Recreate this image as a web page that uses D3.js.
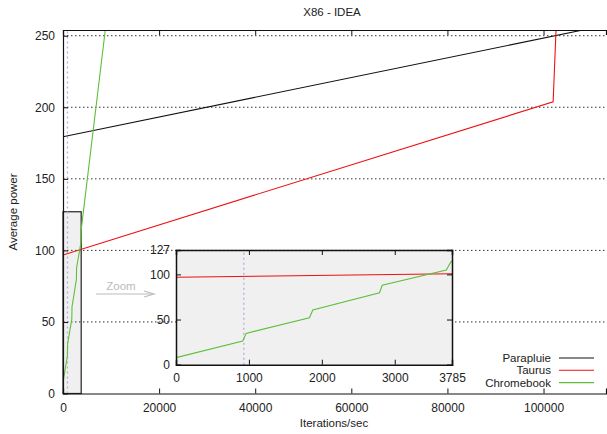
<!DOCTYPE html>
<html><head><meta charset="utf-8">
<script src="https://cdn.jsdelivr.net/npm/d3@7"></script>
<style>body{margin:0;background:#fff}svg{display:block}text{font-family:"Liberation Sans",Arial,sans-serif;fill:#222}</style>
</head><body>
<script>
// ---- data ----
const seriesNames = ["Parapluie", "Taurus", "Chromebook"];
const seriesColors = ["#111111", "#ee1111", "#5fbf3a"];
const parapluie = [[0, 179.4], [108200, 254]];
const taurus = [[0, 96.8], [102000, 203.8], [102600, 254]];
const chromebook = [[0, 7.8], [915, 26.2], [961, 34.7], [1830, 52.0], [1876, 60.6], [2791, 79.7], [2828, 87.9], [3707, 104.9], [3771, 114], [8800, 254]];
const mainXTicks = [0, 20000, 40000, 60000, 80000, 100000];
const mainYTicks = [0, 50, 100, 150, 200, 250];
const zoomXTicks = [0, 1000, 2000, 3000, 3785];
const zoomYTicks = [0, 50, 100, 127];
const zoomRegion = {x1: 0, x2: 3785, y1: 0, y2: 127};
const markerX = 930;
const title = "X86 - IDEA";
const xLabel = "Iterations/sec";
const yLabel = "Average power";

const W = 607, H = 434;
const svg = d3.select("body").append("svg").attr("width", W).attr("height", H);

const x = d3.scaleLinear().domain([0, 113000]).range([63, 606]);
const y = d3.scaleLinear().domain([0, 254]).range([393.5, 30]);
const all = [parapluie, taurus, chromebook];

svg.append("defs").append("clipPath").attr("id", "mainclip")
  .append("rect").attr("x", 63).attr("y", 30).attr("width", 543).attr("height", 363.5);

// zoom region rect in main
svg.append("rect").attr("x", x(zoomRegion.x1)).attr("y", y(zoomRegion.y2))
  .attr("width", x(zoomRegion.x2) - x(zoomRegion.x1)).attr("height", y(zoomRegion.y1) - y(zoomRegion.y2))
  .attr("fill", "#eff0ef").attr("stroke", "#222").attr("stroke-width", 1.2);

// grid
svg.append("g").selectAll("line").data(mainYTicks.filter(d => d > 0)).join("line")
  .attr("x1", 63).attr("x2", 606).attr("y1", d => y(d)).attr("y2", d => y(d))
  .attr("stroke", "#333").attr("stroke-width", 1).attr("stroke-dasharray", "1.5,2.5");

// marker vertical
svg.append("line").attr("x1", x(markerX)).attr("x2", x(markerX)).attr("y1", y(0)).attr("y2", 30)
  .attr("stroke", "#b9acdc").attr("stroke-width", 1.3).attr("stroke-dasharray", "2,3");

// lines
const line = d3.line().x(d => x(d[0])).y(d => y(d[1]));
const gl = svg.append("g").attr("clip-path", "url(#mainclip)");
all.forEach((s, i) => gl.append("path").datum(s).attr("d", line).attr("fill", "none")
  .attr("stroke", seriesColors[i]).attr("stroke-width", 1.1));

// axes
const gx = svg.append("g").attr("transform", `translate(0,${y(0)})`)
  .call(d3.axisBottom(x).tickValues(mainXTicks).tickFormat(d3.format("d")).tickSize(-5).tickPadding(10));
const gxt = svg.append("g").attr("transform", `translate(0,30)`)
  .call(d3.axisTop(x).tickValues(mainXTicks).tickFormat("").tickSize(-5));
const gy = svg.append("g").attr("transform", `translate(63,0)`)
  .call(d3.axisLeft(y).tickValues(mainYTicks).tickSize(-5).tickPadding(8));
[gx, gxt, gy].forEach(g => {
  g.select(".domain").attr("stroke", "#111").attr("stroke-width", 1.2);
  g.selectAll(".tick line").attr("stroke", "#111");
  g.selectAll("text").attr("font-size", 12).attr("fill", "#222")
    .attr("font-family", "'Liberation Sans',Arial,sans-serif");
});
gx.selectAll(".tick").filter(d => d === 0).select("line").remove();
gxt.selectAll(".tick").filter(d => d === 0).select("line").remove();
gy.selectAll(".tick").filter(d => d === 0).select("line").remove();

// titles
svg.append("text").attr("x", 332).attr("y", 16).attr("text-anchor", "middle").attr("font-size", 11.5).text(title);
svg.append("text").attr("x", 334).attr("y", 427).attr("text-anchor", "middle").attr("font-size", 11.5).text(xLabel);
svg.append("text").attr("transform", "translate(17,212) rotate(-90)").attr("text-anchor", "middle").attr("font-size", 11.5).text(yLabel);

// zoom arrow annotation
svg.append("text").attr("x", 121).attr("y", 290).attr("text-anchor", "middle").attr("font-size", 11.5)
  .style("fill", "#bbbbbb").text("Zoom");
svg.append("line").attr("x1", 96).attr("x2", 153).attr("y1", 294).attr("y2", 294).attr("stroke", "#bbb").attr("stroke-width", 1.2);
svg.append("path").attr("d", "M144,291 L154,294 L144,297").attr("fill", "none").attr("stroke", "#bbb").attr("stroke-width", 1.2);

// inset
const ix = d3.scaleLinear().domain([zoomRegion.x1, zoomRegion.x2]).range([176, 452]);
const iy = d3.scaleLinear().domain([zoomRegion.y1, zoomRegion.y2]).range([364.7, 250]);
svg.append("defs").append("clipPath").attr("id", "insclip")
  .append("rect").attr("x", 176).attr("y", 250).attr("width", 276).attr("height", 114.7);
svg.append("rect").attr("x", 176).attr("y", 250).attr("width", 276).attr("height", 114.7).attr("fill", "#eff0ef");
svg.append("line").attr("x1", ix(markerX)).attr("x2", ix(markerX)).attr("y1", iy(0)).attr("y2", iy(127))
  .attr("stroke", "#b9acdc").attr("stroke-width", 1.3).attr("stroke-dasharray", "2,3");
const iline = d3.line().x(d => ix(d[0])).y(d => iy(d[1]));
const gi = svg.append("g").attr("clip-path", "url(#insclip)");
all.forEach((s, i) => gi.append("path").datum(s).attr("d", iline).attr("fill", "none")
  .attr("stroke", seriesColors[i]).attr("stroke-width", 1.1));
const ib = svg.append("g").attr("transform", `translate(0,${iy(0)})`)
  .call(d3.axisBottom(ix).tickValues(zoomXTicks).tickFormat(d3.format("d")).tickSize(-5).tickPadding(9));
const it = svg.append("g").attr("transform", `translate(0,${iy(127)})`)
  .call(d3.axisTop(ix).tickValues(zoomXTicks).tickFormat("").tickSize(-5));
const il = svg.append("g").attr("transform", `translate(176,0)`)
  .call(d3.axisLeft(iy).tickValues(zoomYTicks).tickSize(-5).tickPadding(6));
const ir = svg.append("g").attr("transform", `translate(452,0)`)
  .call(d3.axisRight(iy).tickValues(zoomYTicks).tickFormat("").tickSize(-5));
[ib, it, il, ir].forEach(g => {
  g.select(".domain").attr("stroke", "#111").attr("stroke-width", 1.5);
  g.selectAll(".tick line").attr("stroke", "#111");
  g.selectAll("text").attr("font-size", 12).attr("fill", "#222")
    .attr("font-family", "'Liberation Sans',Arial,sans-serif");
});
[ib, it].forEach(g => g.selectAll(".tick").filter(d => d === 0 || d === 3785).select("line").remove());
[il, ir].forEach(g => g.selectAll(".tick").filter(d => d === 0 || d === 127).select("line").remove());

// legend
const lg = svg.append("g");
seriesNames.forEach((n, i) => {
  const yy = 358 + i * 12.3;
  lg.append("text").attr("x", 551).attr("y", yy + 4).attr("text-anchor", "end").attr("font-size", 11.5).text(n);
  lg.append("line").attr("x1", 559).attr("x2", 594).attr("y1", yy).attr("y2", yy)
    .attr("stroke", seriesColors[i]).attr("stroke-width", 1.1);
});
</script>
</body></html>
